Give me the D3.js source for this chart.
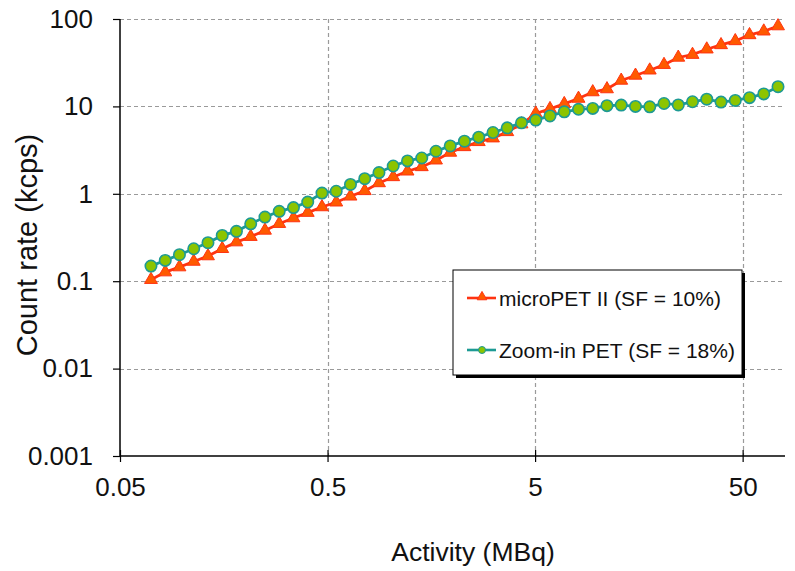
<!DOCTYPE html>
<html><head><meta charset="utf-8">
<script src="https://cdn.jsdelivr.net/npm/d3@7"></script>
<style>body{margin:0;background:#fff}</style></head>
<body>
<svg id="c" width="795" height="571"></svg>
<script>
// Activity (MBq) sampled in a decay series
const activity = [0.0705,0.0826,0.0967,0.1133,0.1327,0.1554,0.1820,0.2132,0.2497,0.2925,
  0.3426,0.4013,0.4700,0.5505,0.6448,0.7553,0.8847,1.036,1.214,1.422,
  1.665,1.950,2.284,2.676,3.134,3.671,4.300,5.037,5.899,6.910,
  8.093,9.480,11.10,13.00,15.23,17.84,20.90,24.48,28.67,33.58,
  39.34,46.07,53.97,63.21,74.04];
// Count rate (kcps)
const microPET = [0.104,0.127,0.145,0.168,0.194,0.235,0.280,0.323,0.381,0.455,
  0.528,0.609,0.706,0.80,0.936,1.08,1.33,1.56,1.81,2.03,
  2.42,2.97,3.44,3.93,4.33,5.11,6.27,8.31,9.38,10.7,
  12.3,14.6,15.8,19.8,22.6,25.9,30.0,36.3,39.1,45.1,
  50.5,56.1,65.7,72.4,83.0];
const zoomIn = [0.149,0.173,0.201,0.235,0.276,0.334,0.372,0.453,0.542,0.630,
  0.695,0.805,1.02,1.07,1.28,1.49,1.75,2.08,2.38,2.57,
  3.07,3.53,4.00,4.45,5.03,5.68,6.49,6.97,7.78,8.67,
  9.27,9.49,10.2,10.35,10.0,9.89,10.8,10.4,11.3,12.1,
  11.2,11.7,12.6,13.9,16.8];
const seriesNames = ["microPET II (SF = 10%)", "Zoom-in PET (SF = 18%)"];
const xTicks = [0.05, 0.5, 5, 50];
const xTickLabels = ["0.05", "0.5", "5", "50"];
const yTicks = [0.001, 0.01, 0.1, 1, 10, 100];
const yTickLabels = ["0.001", "0.01", "0.1", "1", "10", "100"];
const xTitle = "Activity (MBq)";
const yTitle = "Count rate (kcps)";

const FONT = "'Liberation Sans', Arial, sans-serif";
const L = 120, R = 785, T = 19, B = 456;
const svg = d3.select("#c");
const x = d3.scaleLog().domain([0.05, 80]).range([L, R]);
const y = d3.scaleLog().domain([0.001, 100]).range([B, T]);

// grid
const grid = svg.append("g").attr("stroke", "#9a9a9a").attr("stroke-width", 1.2)
  .attr("stroke-dasharray", "4,3");
grid.selectAll("line.h").data(yTicks.slice(1)).join("line").attr("class", "h")
  .attr("x1", L).attr("x2", R).attr("y1", d => Math.round(y(d)) + 0.5).attr("y2", d => Math.round(y(d)) + 0.5);
grid.selectAll("line.v").data(xTicks.slice(1)).join("line").attr("class", "v")
  .attr("y1", T).attr("y2", B).attr("x1", d => Math.round(x(d)) + 0.5).attr("x2", d => Math.round(x(d)) + 0.5);

// axes
const ya = svg.append("g").attr("transform", `translate(${L},0)`)
  .call(d3.axisLeft(y).tickValues(yTicks).tickFormat((d, i) => yTickLabels[i]).tickSize(7).tickSizeOuter(0).tickPadding(20));
const xa = svg.append("g").attr("transform", `translate(0,${B})`)
  .call(d3.axisBottom(x).tickValues(xTicks).tickFormat((d, i) => xTickLabels[i]).tickSize(6).tickSizeOuter(0).tickPadding(16));
xa.selectAll(".tick line").attr("y1", -6);
[ya, xa].forEach(a => {
  a.select(".domain").attr("stroke", "#000").attr("stroke-width", 1.5);
  a.selectAll(".tick line").attr("stroke", "#000").attr("stroke-width", 1.2);
  a.selectAll(".tick text").attr("font-family", FONT).attr("font-size", 26).attr("fill", "#111");
});
ya.select(".domain").attr("d", `M0,${T}V${B}`);
xa.select(".domain").attr("d", `M${L},0H${R}`);

// titles
svg.append("text").attr("x", 473).attr("y", 561).attr("text-anchor", "middle")
  .attr("font-family", FONT).attr("font-size", 26.5).attr("fill", "#111").text(xTitle);
svg.append("text").attr("transform", "translate(37,245) rotate(-90)").attr("text-anchor", "middle")
  .attr("font-family", FONT).attr("font-size", 29).attr("fill", "#111").text(yTitle);

// series
const line = d3.line().x((d, i) => x(activity[i])).y(d => y(d));
const redLine = "#ff3311", redFill = "#ff5a00";
const grnLine = "#1d9a94", grnFill = "#8cc400";
const tri = d3.symbol().type(d3.symbolTriangle).size(72);

svg.append("path").datum(microPET).attr("d", line).attr("fill", "none")
  .attr("stroke", redLine).attr("stroke-width", 2.8);
svg.append("g").selectAll("path").data(microPET).join("path")
  .attr("d", tri).attr("transform", (d, i) => `translate(${x(activity[i])},${y(d)})`)
  .attr("fill", redFill).attr("stroke", redLine).attr("stroke-width", 1);

svg.append("path").datum(zoomIn).attr("d", line).attr("fill", "none")
  .attr("stroke", grnLine).attr("stroke-width", 2.8);
svg.append("g").selectAll("circle").data(zoomIn).join("circle")
  .attr("cx", (d, i) => x(activity[i])).attr("cy", d => y(d)).attr("r", 5.7)
  .attr("fill", grnFill).attr("stroke", grnLine).attr("stroke-width", 1.6);

// legend
const lg = svg.append("g").attr("transform", "translate(453,270)");
lg.append("rect").attr("x", 3).attr("y", 3).attr("width", 289).attr("height", 105).attr("fill", "#000");
lg.append("rect").attr("x", 0).attr("y", 0).attr("width", 289).attr("height", 105)
  .attr("fill", "#fff").attr("stroke", "#000").attr("stroke-width", 1);
const rows = [
  {name: seriesNames[0], c: redLine, f: redFill, m: "tri", yy: 28},
  {name: seriesNames[1], c: grnLine, f: grnFill, m: "circ", yy: 80}
];
rows.forEach(r => {
  lg.append("line").attr("x1", 14).attr("x2", 43).attr("y1", r.yy).attr("y2", r.yy)
    .attr("stroke", r.c).attr("stroke-width", 2.6);
  if (r.m === "tri") {
    lg.append("path").attr("d", d3.symbol().type(d3.symbolTriangle).size(40)())
      .attr("transform", `translate(29,${r.yy - 1})`).attr("fill", r.f).attr("stroke", r.c);
  } else {
    lg.append("circle").attr("cx", 29).attr("cy", r.yy).attr("r", 3.5)
      .attr("fill", r.f).attr("stroke", r.c).attr("stroke-width", 1);
  }
  lg.append("text").attr("x", 46).attr("y", r.yy + 7.5).attr("font-family", FONT)
    .attr("font-size", 21).attr("fill", "#111").text(r.name);
});
</script>
</body></html>
